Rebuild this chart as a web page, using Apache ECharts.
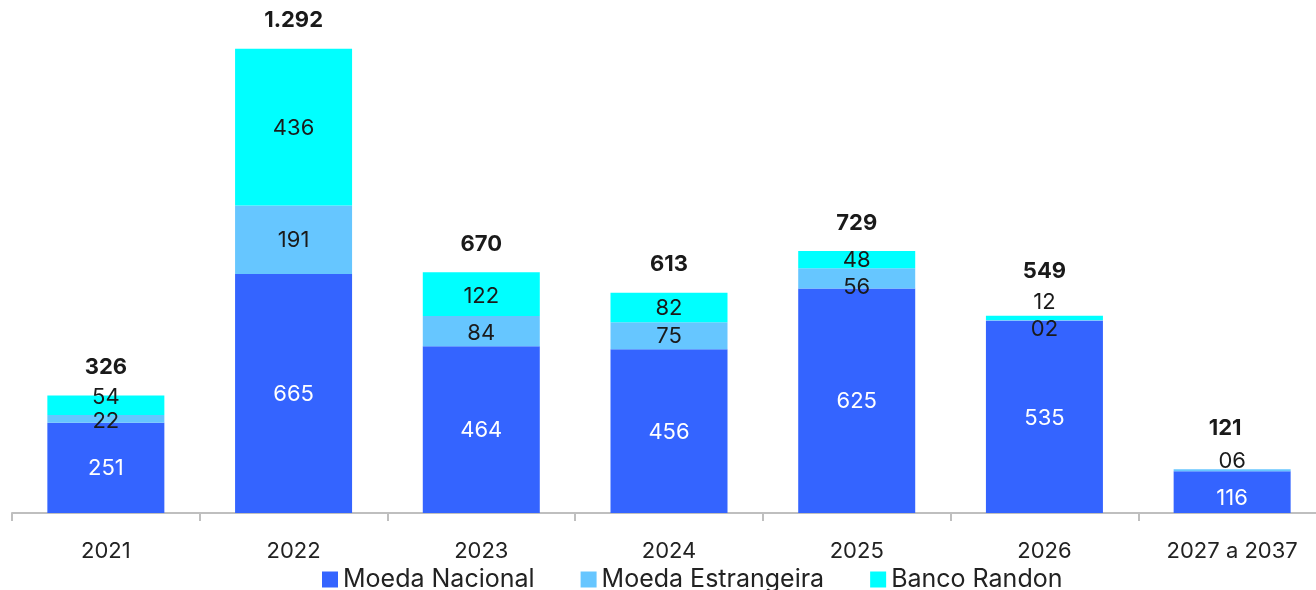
<!DOCTYPE html>
<html>
<head>
<meta charset="utf-8">
<script src="https://cdn.jsdelivr.net/npm/echarts@6/dist/echarts.min.js"></script>
<style>
  html, body { margin: 0; padding: 0; background: #ffffff; }
  #chart { width: 1316px; height: 590px; }
</style>
</head>
<body>
<div id="chart"></div>
<script>
// Debt maturity schedule, stacked by source
const categories = ['2021', '2022', '2023', '2024', '2025', '2026', '2027 a 2037'];
const moedaNacional = [251, 665, 464, 456, 625, 535, 116];
const moedaEstrangeira = [22, 191, 84, 75, 56, 2, 6];
const bancoRandon = [54, 436, 122, 82, 48, 12, 0];
const totals = [326, 1292, 670, 613, 729, 549, 121];

// label nudges (px) so thin segments stay readable
const offNacional = [0, 1, 1, 1, 1, 1, 6];
const offEstrangeira = [3, 1, 2, 1, 9, 9, -9];
const offBanco = [-8, 1, 2, 1, 1, -16, 0];
const offTotal = [[0, 0], [0, 0], [0, 0], [0, 0], [0, 0], [0, -16], [-7, -13]];

const FONT = 'Inter, "Noto Sans", sans-serif';
const fmt2 = v => (v < 10 ? '0' + v : String(v));
const fmtThousands = v => String(v).replace(/\B(?=(\d{3})+(?!\d))/g, '.');

function items(values, offsets) {
  return values.map((v, i) => ({
    value: v,
    label: { offset: [0, offsets[i]], show: v !== 0 }
  }));
}

const labelBase = {
  show: true,
  position: 'inside',
  fontFamily: FONT,
  fontSize: 22,
  formatter: p => fmt2(p.value)
};

const chart = echarts.init(document.getElementById('chart'), null, { renderer: 'canvas' });
chart.setOption({
  backgroundColor: '#ffffff',
  animation: false,
  grid: { left: 12, width: 1314, top: 10, bottom: 77, outerBoundsMode: 'none' },
  legend: {
    data: ['Moeda Nacional', 'Moeda Estrangeira', 'Banco Randon'],
    top: 562,
    left: 317,
    icon: 'rect',
    itemWidth: 16,
    itemHeight: 16,
    itemGap: 46,
    textStyle: { fontFamily: FONT, fontSize: 25, color: '#222222' }
  },
  xAxis: {
    type: 'category',
    data: categories,
    axisLine: { lineStyle: { color: '#bfbfbf', width: 2 } },
    axisTick: { show: true, length: 8, lineStyle: { color: '#bfbfbf', width: 2 } },
    axisLabel: { fontFamily: FONT, fontSize: 22, color: '#222222', margin: 27 }
  },
  yAxis: {
    type: 'value',
    min: 0,
    max: 1400,
    show: false,
    splitLine: { show: false }
  },
  series: [
    {
      name: 'Moeda Nacional',
      type: 'bar',
      stack: 'total',
      barWidth: 117,
      itemStyle: { color: '#3464FF' },
      label: Object.assign({}, labelBase, { color: '#ffffff' }),
      data: items(moedaNacional, offNacional)
    },
    {
      name: 'Moeda Estrangeira',
      type: 'bar',
      stack: 'total',
      barWidth: 117,
      itemStyle: { color: '#66C6FF' },
      label: Object.assign({}, labelBase, { color: '#1a1a1a' }),
      data: items(moedaEstrangeira, offEstrangeira)
    },
    {
      name: 'Banco Randon',
      type: 'bar',
      stack: 'total',
      barWidth: 117,
      itemStyle: { color: '#00FFFF' },
      label: Object.assign({}, labelBase, { color: '#1a1a1a' }),
      data: items(bancoRandon, offBanco)
    },
    {
      // zero-height cap carrying the total label on top of each stack
      name: 'Total',
      type: 'bar',
      stack: 'total',
      barWidth: 117,
      itemStyle: { color: 'transparent' },
      label: {
        show: true,
        position: 'top',
        distance: 17,
        fontFamily: FONT,
        fontSize: 22,
        fontWeight: 'bold',
        color: '#1a1a1a',
        formatter: p => fmtThousands(totals[p.dataIndex])
      },
      data: totals.map((t, i) => ({ value: 0, label: { offset: offTotal[i] } }))
    }
  ]
});
</script>
</body>
</html>
